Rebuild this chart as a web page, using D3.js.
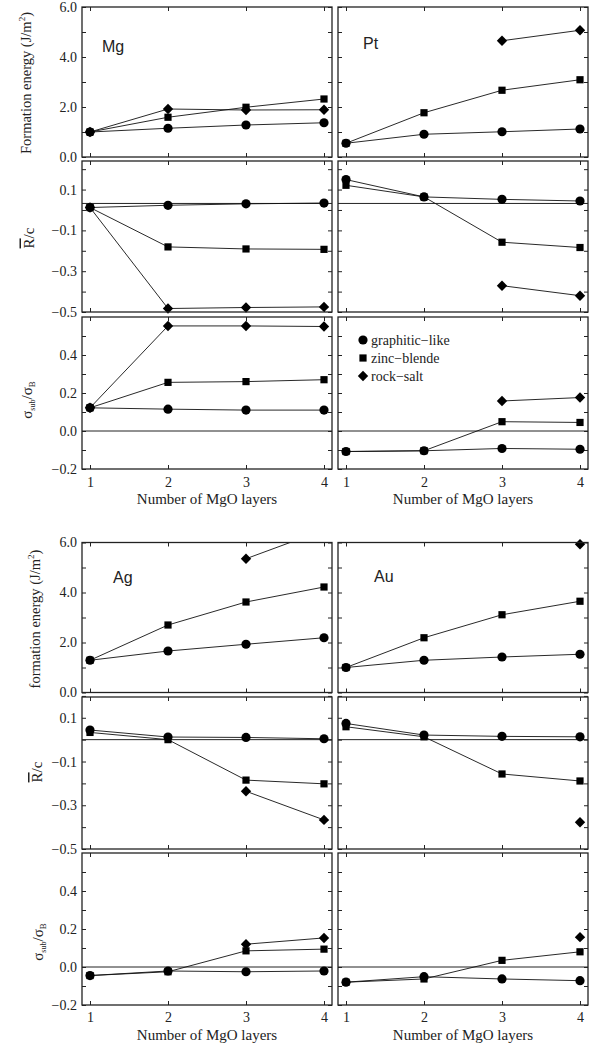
<!DOCTYPE html>
<html>
<head>
<meta charset="utf-8">
<script src="https://cdn.jsdelivr.net/npm/d3@7"></script>
<style>
  body { margin: 0; background: #fff; }
  svg text { font-family: "Liberation Serif", "DejaVu Serif", "Times New Roman", Times, serif; fill: #222; }
  svg text.plabel { font-family: "Liberation Sans", Arial, Helvetica, sans-serif; }
</style>
</head>
<body>
<svg id="fig" width="602" height="1046"></svg>
<script>
// ---- data -------------------------------------------------------------
const layers = [1, 2, 3, 4];
const seriesKeys = ["graphitic", "zinc", "rock"];
const seriesNames = ["graphitic\u2212like", "zinc\u2212blende", "rock\u2212salt"];

// Mg substrate
const mgEnergy = { graphitic: [1.00, 1.15, 1.28, 1.37], zinc: [1.00, 1.59, 1.99, 2.32], rock: [1.00, 1.92, 1.88, 1.89] };
const mgRc     = { graphitic: [0.012, 0.023, 0.030, 0.034], zinc: [0.012, -0.181, -0.191, -0.193], rock: [0.012, -0.483, -0.478, -0.475] };
const mgSigma  = { graphitic: [0.122, 0.115, 0.110, 0.110], zinc: [0.122, 0.256, 0.260, 0.270], rock: [0.122, 0.553, 0.553, 0.550] };

// Pt substrate
const ptEnergy = { graphitic: [0.55, 0.91, 1.01, 1.12], zinc: [0.55, 1.77, 2.67, 3.09], rock: [null, null, 4.65, 5.07] };
const ptRc     = { graphitic: [0.149, 0.064, 0.052, 0.044], zinc: [0.121, 0.064, -0.158, -0.184], rock: [null, null, -0.371, -0.420] };
const ptSigma  = { graphitic: [-0.108, -0.104, -0.092, -0.096], zinc: [-0.108, -0.104, 0.049, 0.045], rock: [null, null, 0.158, 0.176] };

// Ag substrate
const agEnergy = { graphitic: [1.29, 1.66, 1.93, 2.19], zinc: [1.29, 2.70, 3.62, 4.22], rock: [null, null, 5.35, 6.50] };
const agRc     = { graphitic: [0.044, 0.012, 0.010, 0.004], zinc: [0.033, 0.000, -0.185, -0.202], rock: [null, null, -0.236, -0.367] };
const agSigma  = { graphitic: [-0.045, -0.021, -0.025, -0.021], zinc: [-0.045, -0.025, 0.085, 0.094], rock: [null, null, 0.120, 0.153] };

// Au substrate
const auEnergy = { graphitic: [1.00, 1.29, 1.42, 1.53], zinc: [1.00, 2.19, 3.11, 3.65], rock: [null, null, null, 5.93] };
const auRc     = { graphitic: [0.074, 0.021, 0.015, 0.013], zinc: [0.059, 0.013, -0.157, -0.189], rock: [null, null, null, -0.378] };
const auSigma  = { graphitic: [-0.080, -0.051, -0.063, -0.072], zinc: [-0.080, -0.063, 0.035, 0.080], rock: [null, null, null, 0.157] };

// axis tick values / labels
const energyTicks = [0, 1, 2, 3, 4, 5, 6];
const energyLabels = [0, 2, 4, 6];
const rcTicks = [-5, -4, -3, -2, -1, 0, 1, 2].map(d => d / 10);
const rcLabels = [-5, -3, -1, 1].map(d => d / 10);
const sigmaTicks = [-2, -1, 0, 1, 2, 3, 4, 5].map(d => d / 10);
const sigmaLabels = [-2, 0, 2, 4].map(d => d / 10);

// reference (baseline) levels drawn across the R/c and sigma panels
const rcBaseline = [0.032, 0.0];
const sigmaBaseline = 0.0;

// ---- layout -----------------------------------------------------------
const SERIF = '"Liberation Serif", "DejaVu Serif", "Times New Roman", Times, serif';
const SANS = '"Liberation Sans", Arial, Helvetica, sans-serif';
const svg = d3.select("#fig");
const cols = [{ x0: 82, x1: 332 }, { x0: 338, x1: 588 }];
const groups = [
  { fe: [7, 157], rc: [161, 312], sg: [317, 469], rcDomain: [-0.5, 0.24], tickY: 487, titleY: 504,
    feTitle: "Formation energy (J/m", labelPos: { fe: [30.5, 83], rc: [33.5, 238], sg: [32, 400] } },
  { fe: [542.5, 692.5], rc: [697, 849], sg: [853, 1005], rcDomain: [-0.5, 0.195], tickY: 1022, titleY: 1040,
    feTitle: "formation energy (J/m", labelPos: { fe: [40, 619], rc: [42, 772], sg: [43, 942] } }
];

const metals = [
  { g: 0, c: 0, name: "Mg", off: [20, 44.5], energy: mgEnergy, rc: mgRc, sigma: mgSigma },
  { g: 0, c: 1, name: "Pt", off: [25, 41.5], energy: ptEnergy, rc: ptRc, sigma: ptSigma, legend: true },
  { g: 1, c: 0, name: "Ag", off: [31, 40.5], energy: agEnergy, rc: agRc, sigma: agSigma },
  { g: 1, c: 1, name: "Au", off: [36, 39.5], energy: auEnergy, rc: auRc, sigma: auSigma }
];

const fmt = d3.format(".1f");
const TICK = 4;
let clipId = 0;

function marker(sel, key) {
  if (key === "graphitic") {
    sel.append("circle").attr("r", 4.6);
  } else if (key === "zinc") {
    sel.append("rect").attr("x", -3.6).attr("y", -3.6).attr("width", 7.2).attr("height", 7.2);
  } else {
    sel.append("path").attr("d", "M0,-5.2L5.2,0L0,5.2L-5.2,0Z");
  }
}

function drawPanel(col, gr, yr, domain, ticks, labels, data, baseline, showLeft, showBottom) {
  const x = d3.scaleLinear().domain([1 - 8 / 78, 4 + 8 / 78]).range([col.x0, col.x1]);
  const y = d3.scaleLinear().domain(domain).range([yr[1], yr[0]]);
  const g = svg.append("g");

  const id = "clip" + (clipId++);
  svg.append("clipPath").attr("id", id).append("rect")
    .attr("x", col.x0).attr("y", yr[0]).attr("width", col.x1 - col.x0).attr("height", yr[1] - yr[0]);

  const styleAxis = a => {
    a.attr("font-family", SERIF);
    a.select(".domain").remove();
    a.selectAll(".tick line").attr("stroke", "#222").attr("stroke-width", 1);
    a.selectAll(".tick text").style("font-size", "14px").attr("fill", "#222");
  };

  // y ticks, both sides, pointing inward
  g.append("g").attr("transform", `translate(${col.x0},0)`)
    .call(d3.axisLeft(y).tickValues(ticks).tickSize(-TICK).tickPadding(5)
      .tickFormat(d => showLeft && labels.some(l => Math.abs(l - d) < 1e-9) ? fmt(d) : ""))
    .call(styleAxis);
  g.append("g").attr("transform", `translate(${col.x1},0)`)
    .call(d3.axisRight(y).tickValues(ticks).tickSize(-TICK).tickFormat(""))
    .call(styleAxis);
  // x ticks, top and bottom
  g.append("g").attr("transform", `translate(0,${yr[0]})`)
    .call(d3.axisTop(x).tickValues(layers).tickSize(-TICK).tickFormat(""))
    .call(styleAxis);
  g.append("g").attr("transform", `translate(0,${yr[1]})`)
    .call(d3.axisBottom(x).tickValues(layers).tickSize(-TICK).tickFormat(""))
    .call(styleAxis);

  // reference line
  if (baseline !== null) {
    g.append("line").attr("x1", col.x0).attr("x2", col.x1)
      .attr("y1", y(baseline)).attr("y2", y(baseline))
      .attr("stroke", "#222").attr("stroke-width", 1);
  }

  // series lines
  const line = d3.line().defined(d => d.v !== null).x(d => x(d.n)).y(d => y(d.v));
  const lines = g.append("g").attr("clip-path", `url(#${id})`);
  seriesKeys.forEach(k => {
    const pts = layers.map((n, i) => ({ n, v: data[k][i] }));
    lines.append("path").datum(pts).attr("d", line)
      .attr("fill", "none").attr("stroke", "#111").attr("stroke-width", 0.9);
  });

  // markers (graphitic drawn last so it sits on top)
  ["rock", "zinc", "graphitic"].forEach(k => {
    layers.forEach((n, i) => {
      const v = data[k][i];
      if (v === null || v < domain[0] || v > domain[1]) return;
      const m = g.append("g").attr("transform", `translate(${x(n)},${y(v)})`).attr("fill", "#000");
      marker(m, k);
    });
  });

  // frame
  g.append("rect").attr("x", col.x0).attr("y", yr[0])
    .attr("width", col.x1 - col.x0).attr("height", yr[1] - yr[0])
    .attr("fill", "none").attr("stroke", "#222").attr("stroke-width", 1.3);

  // layer-number labels under the lowest panel
  if (showBottom) {
    g.append("g").attr("transform", `translate(0,${yr[1]})`)
      .call(d3.axisBottom(x).tickValues(layers).tickSize(0).tickPadding(0).tickFormat(d3.format("d")))
      .call(a => {
        a.attr("font-family", SERIF);
        a.select(".domain").remove();
        a.selectAll(".tick text").style("font-size", "14px").attr("fill", "#222")
          .attr("dy", null).attr("y", gr.tickY - yr[1]);
      });
  }
  return { x, y };
}

metals.forEach(m => {
  const gr = groups[m.g];
  const col = cols[m.c];
  const left = m.c === 0;
  drawPanel(col, gr, gr.fe, [0, 6], energyTicks, energyLabels, m.energy, null, left, false);
  drawPanel(col, gr, gr.rc, gr.rcDomain, rcTicks, rcLabels, m.rc, rcBaseline[m.g], left, false);
  drawPanel(col, gr, gr.sg, [-0.2, 0.6], sigmaTicks, sigmaLabels, m.sigma, sigmaBaseline, left, true);

  // substrate label
  svg.append("text").attr("class", "plabel").attr("font-family", SANS)
    .attr("x", col.x0 + m.off[0]).attr("y", gr.fe[0] + m.off[1])
    .style("font-size", "16px").text(m.name);

  // legend
  if (m.legend) {
    const lg = svg.append("g");
    seriesKeys.forEach((k, i) => {
      const yy = gr.sg[0] + 23 + i * 18;
      const mk = lg.append("g").attr("transform", `translate(${col.x0 + 25},${yy})`).attr("fill", "#000");
      marker(mk, k);
      lg.append("text").attr("font-family", SERIF).attr("x", col.x0 + 33).attr("y", yy + 4.5)
        .style("font-size", "14px").text(seriesNames[i]);
    });
  }
});

// x-axis titles
groups.forEach(gr => {
  cols.forEach(col => {
    svg.append("text").attr("font-family", SERIF)
      .attr("x", (col.x0 + col.x1) / 2).attr("y", gr.titleY)
      .attr("text-anchor", "middle").style("font-size", "15px").text("Number of MgO layers");
  });
});

// y-axis titles
groups.forEach(gr => {
  const p = gr.labelPos;
  const fe = svg.append("text").attr("font-family", SERIF)
    .attr("transform", `translate(${p.fe[0]},${p.fe[1]}) rotate(-90)`)
    .attr("text-anchor", "middle").style("font-size", "14.5px");
  fe.append("tspan").text(gr.feTitle);
  fe.append("tspan").attr("dy", -6).style("font-size", "9px").text("2");
  fe.append("tspan").attr("dy", 6).text(")");

  const rc = svg.append("text").attr("font-family", SERIF)
    .attr("transform", `translate(${p.rc[0]},${p.rc[1]}) rotate(-90)`)
    .attr("text-anchor", "middle").style("font-size", "15px");
  rc.append("tspan").style("text-decoration", "overline").text("R");
  rc.append("tspan").text("/c");

  const sg = svg.append("text").attr("font-family", SERIF)
    .attr("transform", `translate(${p.sg[0]},${p.sg[1]}) rotate(-90)`)
    .attr("text-anchor", "middle").style("font-size", "15px");
  sg.append("tspan").text("\u03c3");
  sg.append("tspan").attr("dy", 3).style("font-size", "8px").text("sub");
  sg.append("tspan").attr("dy", -3).text("/\u03c3");
  sg.append("tspan").attr("dy", 3).style("font-size", "9px").text("B");
});
</script>
</body>
</html>
